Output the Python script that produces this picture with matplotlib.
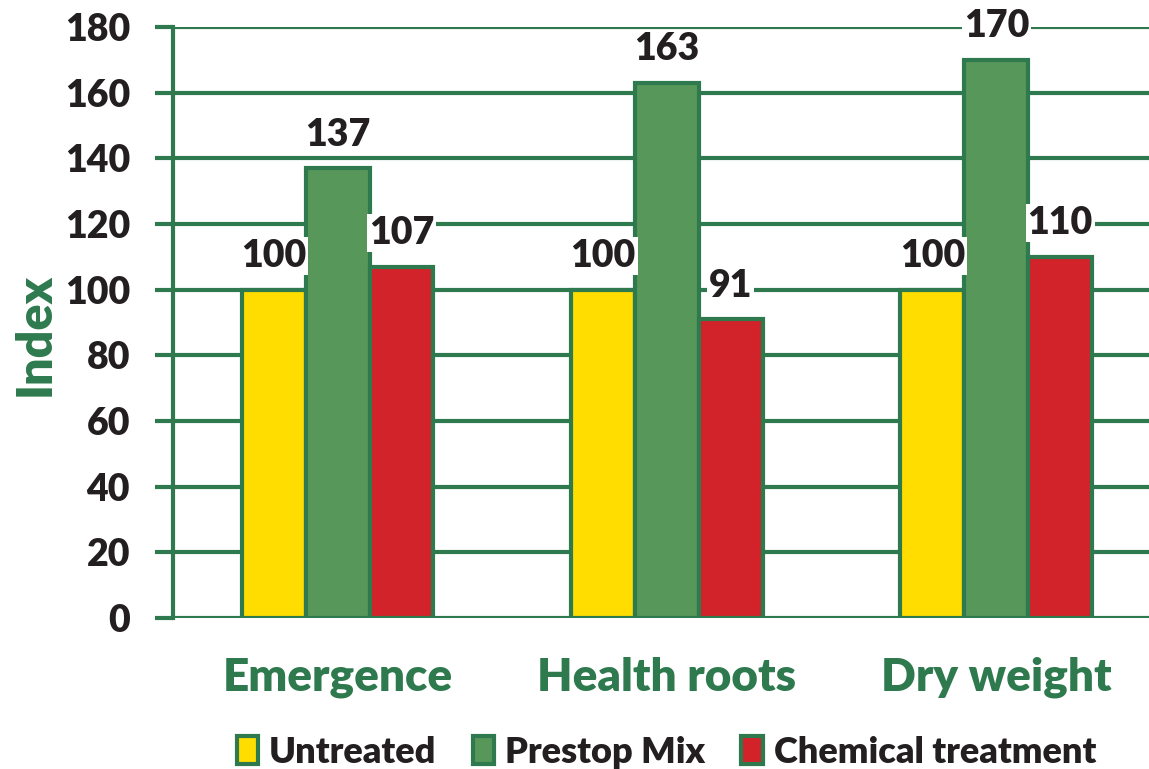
import matplotlib
matplotlib.use("Agg")
import matplotlib.pyplot as plt
import numpy as np
from matplotlib.patches import Patch

categories = ["Emergence", "Health roots", "Dry weight"]
series_names = ["Untreated", "Prestop Mix", "Chemical treatment"]
untreated = [100, 100, 100]
prestop = [137, 163, 170]
chemical = [107, 91, 110]
yticks = [0, 20, 40, 60, 80, 100, 120, 140, 160, 180]

colors = ["#FFDD00", "#58975A", "#D2232A"]
edge = "#2E7A4E"
dark = "#231F20"
font = "Lato"
W = "heavy"

plt.rcParams['font.family'] = [font, 'DejaVu Sans']
plt.rcParams['font.weight'] = W

fig = plt.figure(figsize=(11.49, 7.69), dpi=100)
ax = fig.add_axes([173/1149, 151/769, (1149-173)/1149, (618-27)/769])

x = np.arange(len(categories))
w = 0.194
data = [untreated, prestop, chemical]
for i, (vals, c) in enumerate(zip(data, colors)):
    pos = x + (i - 1) * w
    bars = ax.bar(pos, vals, width=w, color=c, edgecolor=edge, linewidth=3, zorder=3)
    for b, v in zip(bars, vals):
        ax.annotate(str(v), (b.get_x() + b.get_width()/2, v), xytext=(0, 12),
                    textcoords="offset points", ha="center", va="bottom",
                    fontsize=27, fontweight=W, color=dark, zorder=5,
                    bbox=dict(boxstyle="square,pad=0.05", fc="white", ec="none"))

ax.set_ylim(0, 180)
ax.set_xlim(-0.5, 2.5 - 12/330)
ax.set_yticks(yticks)
ax.yaxis.grid(True, color=edge, linewidth=3, zorder=0)
ax.set_axisbelow(True)
for s in ["top", "right", "bottom"]:
    ax.spines[s].set_visible(False)
ax.spines["left"].set_color(edge)
ax.spines["left"].set_linewidth(3)
ax.tick_params(axis="y", length=13, width=3, color=edge, pad=18, labelsize=27, labelcolor=dark)
ax.set_xticks(x)
ax.set_xticklabels(categories, fontsize=33, fontweight=W, color=edge)
ax.tick_params(axis="x", length=0, pad=28)
for lab in ax.get_yticklabels():
    lab.set_fontweight(W)
ax.set_ylabel("Index", fontsize=35, fontweight=W, color=edge)
ax.yaxis.set_label_coords(-0.118, 0.48)

handles = [Patch(facecolor=c, edgecolor=edge, linewidth=3) for c in colors]
leg = fig.legend(handles, series_names, loc="center", bbox_to_anchor=(0.58, 0.022),
                 ncol=3, frameon=False, handlelength=0.6, handleheight=0.8,
                 handletextpad=0.3, columnspacing=1.0, prop={'weight': W, 'size': 26})
for t in leg.get_texts():
    t.set_color(dark)

fig.savefig("out.png", dpi=100)
